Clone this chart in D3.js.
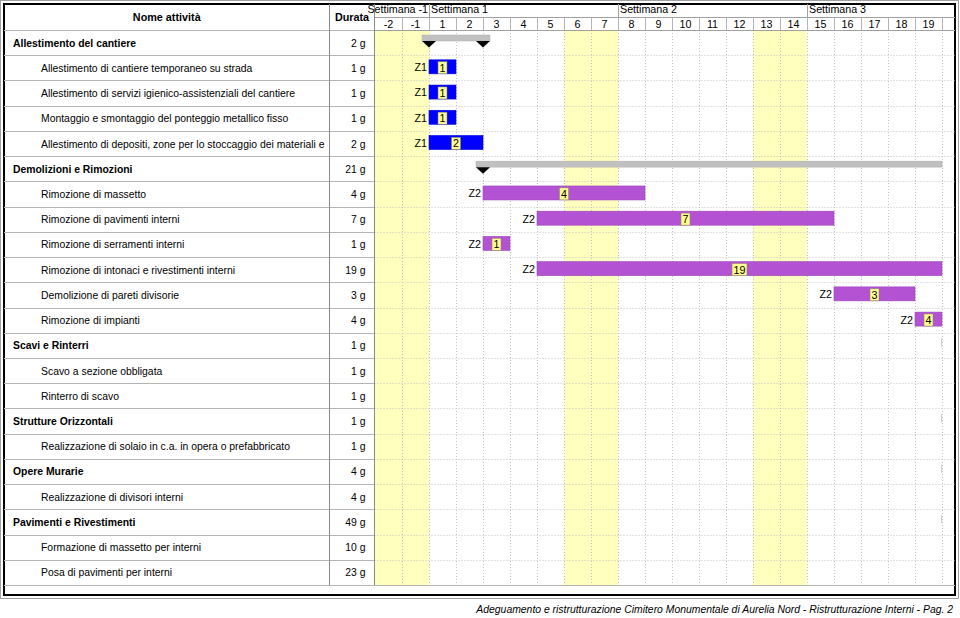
<!DOCTYPE html>
<html><head><meta charset="utf-8">
<script src="https://cdn.jsdelivr.net/npm/d3@7"></script>
<style>body{margin:0;background:#fff;} svg{display:block;font-family:"Liberation Sans",Arial,sans-serif;}</style>
</head><body><svg id="c" width="960" height="618"></svg>
<script>
const taskNames = [
  "Allestimento del cantiere",
  "Allestimento di cantiere temporaneo su strada",
  "Allestimento di servizi igienico-assistenziali del cantiere",
  "Montaggio e smontaggio del ponteggio metallico fisso",
  "Allestimento di depositi, zone per lo stoccaggio dei materiali e",
  "Demolizioni e Rimozioni",
  "Rimozione di massetto",
  "Rimozione di pavimenti interni",
  "Rimozione di serramenti interni",
  "Rimozione di intonaci e rivestimenti interni",
  "Demolizione di pareti divisorie",
  "Rimozione di impianti",
  "Scavi e Rinterri",
  "Scavo a sezione obbligata",
  "Rinterro di scavo",
  "Strutture Orizzontali",
  "Realizzazione di solaio in c.a. in opera o prefabbricato",
  "Opere Murarie",
  "Realizzazione di divisori interni",
  "Pavimenti e Rivestimenti",
  "Formazione di massetto per interni",
  "Posa di pavimenti per interni"
];
const durations = [2,1,1,1,2,21,4,7,1,19,3,4,1,1,1,1,1,4,4,49,10,23];
const isSummary = [true,false,false,false,false,true,false,false,false,false,false,false,true,false,false,true,false,true,false,true,false,false];
const zones = ["","Z1","Z1","Z1","Z1","","Z2","Z2","Z2","Z2","Z2","Z2","","","","","","","","","",""];
const startDays = ["1","1","1","1","1","3","3","5","3","5","16","19",null,null,null,null,null,null,null,null,null,null];
const endDays   = ["2","1","1","1","2","19","8","15","3","19","18","19",null,null,null,null,null,null,null,null,null,null];
const continuesRight = [false,false,false,false,false,true,false,false,false,true,false,true,false,false,false,false,false,false,false,false,false,false];
const summaryBeyond = [false,false,false,false,false,false,false,false,false,false,false,false,true,false,false,true,false,true,false,true,false,false];
const dayLabels = ["-2","-1","1","2","3","4","5","6","7","8","9","10","11","12","13","14","15","16","17","18","19"];
const weekLabels = ["Settimana -1","Settimana 1","Settimana 2","Settimana 3"];
const weekStarts = ["-2","1","8","15"];
const weekEnds = ["-1","7","14","19"];
const weekendDays = ["-2","-1","6","7","13","14"];
const headerName = "Nome attività";
const headerDur = "Durata";
const footerText = "Adeguamento e ristrutturazione Cimitero Monumentale di Aurelia Nord - Ristrutturazione Interni - Pag. 2";

const FS = 10.4;
const svg = d3.select("#c");
const L = 4, T = 4, R = 955, B = 595;
const nameR = 329.5, durR = 374.5, ganttR = 942;
const headB = 30, weekRowB = 17.5, rowsB = 585;
const colors = {Z1:"#0000ff", Z2:"#b452d4"};

const x = d3.scaleBand().domain(dayLabels).range([375, ganttR]).paddingInner(0).paddingOuter(0);
const bw = x.bandwidth();
const y = d3.scaleBand().domain(d3.range(taskNames.length)).range([headB, rowsB]);
const rh = y.bandwidth();
const rowLine = d => Math.round(d===taskNames.length ? rowsB : y(d)) + 0.5;

// outer frame
svg.append("rect").attr("x",0.5).attr("y",0.5).attr("width",958).attr("height",598).attr("fill","none").attr("stroke","#a0a0a0");
svg.append("rect").attr("x",L).attr("y",T).attr("width",R-L).attr("height",B-T).attr("fill","#fff").attr("stroke","#000").attr("stroke-width",2);

// weekend shading
svg.append("g").selectAll("rect").data(weekendDays).join("rect")
  .attr("x", d=>x(d)).attr("y", headB).attr("width", bw).attr("height", rowsB-headB)
  .attr("fill","#ffffbe");

// gantt grid: dotted
const grid = svg.append("g").attr("stroke","#c4c4c4").attr("stroke-dasharray","1,2").attr("stroke-width",1);
const colEdges = dayLabels.map(d=>x(d)).concat([ganttR]);
grid.selectAll("line.v").data(colEdges.slice(1)).join("line").attr("class","v")
  .attr("x1",d=>Math.round(d)+0.5).attr("x2",d=>Math.round(d)+0.5).attr("y1",headB).attr("y2",rowsB);
grid.selectAll("line.h").data(d3.range(1, taskNames.length)).join("line").attr("class","h")
  .attr("x1",durR).attr("x2",R).attr("y1",rowLine).attr("y2",rowLine);

// left table lines
const tbl = svg.append("g").attr("stroke","#b4b4b4");
tbl.selectAll("line").data(d3.range(0, taskNames.length+1)).join("line")
  .attr("x1",L).attr("x2",durR).attr("y1",rowLine).attr("y2",rowLine);
svg.append("line").attr("x1",durR).attr("x2",R).attr("y1",headB+0.5).attr("y2",headB+0.5).attr("stroke","#a0a0a0");
svg.append("line").attr("x1",durR).attr("x2",R).attr("y1",weekRowB).attr("y2",weekRowB).attr("stroke","#a0a0a0");
svg.append("line").attr("x1",durR).attr("x2",R).attr("y1",rowsB+0.5).attr("y2",rowsB+0.5).attr("stroke","#b4b4b4");
[nameR, durR].forEach(v=>svg.append("line").attr("x1",v).attr("x2",v).attr("y1",T).attr("y2",rowsB).attr("stroke","#888"));

// header day row dividers
svg.append("g").selectAll("line").data(colEdges.slice(1)).join("line")
  .attr("x1",d=>Math.round(d)+0.5).attr("x2",d=>Math.round(d)+0.5).attr("y1",weekRowB).attr("y2",headB)
  .attr("stroke","#b4b4b4");
// week dividers
svg.append("g").selectAll("line").data(weekStarts.slice(1)).join("line")
  .attr("x1",d=>Math.round(x(d))+0.5).attr("x2",d=>Math.round(x(d))+0.5).attr("y1",T).attr("y2",weekRowB)
  .attr("stroke","#a0a0a0");

// header texts
svg.append("text").attr("x",(L+nameR)/2).attr("y",21).attr("text-anchor","middle").attr("font-size",FS+0.4).attr("font-weight","bold").text(headerName);
svg.append("text").attr("x",(nameR+durR)/2).attr("y",21).attr("text-anchor","middle").attr("font-size",FS+0.4).attr("font-weight","bold").text(headerDur);
svg.append("g").selectAll("text").data(dayLabels).join("text")
  .attr("x",d=>x(d)+bw/2).attr("y",27.5).attr("text-anchor","middle").attr("font-size",FS+0.3).text(d=>d);
const wk = svg.append("g").selectAll("text").data(weekLabels).join("text")
  .attr("font-size",FS+0.3).attr("y",13).text(d=>d);
wk.each(function(d,i){
  const s = x(weekStarts[i]), e = x(weekEnds[i])+bw;
  const w = this.getComputedTextLength();
  if (w > e-s-2) d3.select(this).attr("x", e-1).attr("text-anchor","end");
  else d3.select(this).attr("x", s+2).attr("text-anchor","start");
});

// left table text
svg.append("clipPath").attr("id","nameclip").append("rect").attr("x",L).attr("y",0).attr("width",nameR-L-1).attr("height",618);
const names = svg.append("g").attr("clip-path","url(#nameclip)");
names.selectAll("text").data(taskNames).join("text")
  .attr("x",(d,i)=>isSummary[i]?13:41).attr("y",(d,i)=>y(i)+rh/2+4)
  .attr("font-size",FS).attr("font-weight",(d,i)=>isSummary[i]?"bold":"normal")
  .attr("fill","#000").text(d=>d);
svg.append("g").selectAll("text").data(durations).join("text")
  .attr("x",durR-9).attr("y",(d,i)=>y(i)+rh/2+4).attr("text-anchor","end")
  .attr("font-size",FS).text(d=>d+" g");

// bars
const bars = svg.append("g");
taskNames.forEach((n,i)=>{
  const top = y(i);
  if (summaryBeyond[i]) {
    bars.append("line").attr("x1",ganttR-0.5).attr("x2",ganttR-0.5).attr("y1",top+6).attr("y2",top+14).attr("stroke","#cfcfcf");
    return;
  }
  if (startDays[i]===null) return;
  const x0 = x(startDays[i]);
  const x1 = x(endDays[i])+bw;
  if (isSummary[i]) {
    const gx0 = x0-7, gx1 = continuesRight[i]? ganttR : Math.min(x1+7, ganttR);
    bars.append("rect").attr("x",gx0).attr("y",top+5).attr("width",gx1-gx0).attr("height",6).attr("fill","#c0c0c0").attr("stroke","#b0b0b0").attr("stroke-width",0.5);
    const tri = c => `M${c-7},${top+11}L${c+7},${top+11}L${c},${top+17.5}Z`;
    bars.append("path").attr("d",tri(x0)).attr("fill","#000");
    if (!continuesRight[i]) bars.append("path").attr("d",tri(x1)).attr("fill","#000");
  } else {
    const col = colors[zones[i]];
    bars.append("rect").attr("x",x0).attr("y",top+4.6).attr("width",x1-x0).attr("height",14)
      .attr("fill",col).attr("stroke",d3.color(col).darker(0.4)).attr("stroke-width",0.6);
    bars.append("text").attr("x",x0-2).attr("y",top+16).attr("text-anchor","end").attr("font-size",FS+0.3).text(zones[i]);
    const lbl = String(durations[i]);
    const cx = (x0+x1)/2;
    const t = bars.append("text").attr("x",cx).attr("y",top+16.5).attr("text-anchor","middle").attr("font-size",FS+0.3).text(lbl);
    const w = t.node().getComputedTextLength();
    bars.insert("rect", function(){return t.node();}).attr("x",cx-w/2-1.5).attr("y",top+6.5).attr("width",w+3).attr("height",12)
      .attr("fill","#ffff90").attr("stroke","#8a8a60").attr("stroke-width",0.5);
  }
});

// footer
svg.append("text").attr("x",953).attr("y",613).attr("text-anchor","end").attr("font-size",FS).attr("font-style","italic").text(footerText);
</script>
</body></html>
